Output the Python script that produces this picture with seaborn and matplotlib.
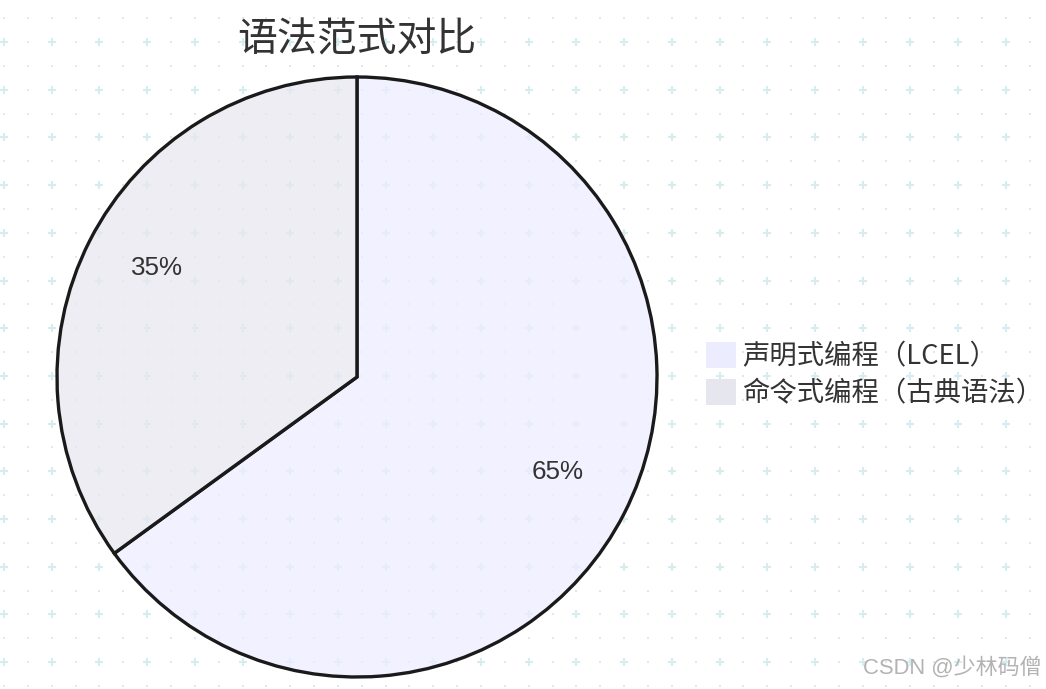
import numpy as np
import matplotlib
matplotlib.use("Agg")
import matplotlib.pyplot as plt
import seaborn as sns
from matplotlib.colors import to_rgba
from matplotlib.patches import Patch
from matplotlib.transforms import ScaledTranslation

# chart data
categories = ["声明式编程（LCEL）", "命令式编程（古典语法）"]
shares = [65, 35]
slice_colors = ["#ECECFF", "#E6E6EE"]
chart_title = "语法范式对比"
watermark = "CSDN @少林码僧"

sns.set_theme(style="white")
plt.rcParams["font.family"] = ["Noto Sans CJK SC", "DejaVu Sans"]

W, H = 1046, 689
fig = plt.figure(figsize=(W / 100, H / 100), dpi=100)
fig.patch.set_facecolor("white")

# faint dot / cross background pattern (pixel coordinates)
bg = fig.add_axes([0, 0, 1, 1])
bg.set_xlim(0, W)
bg.set_ylim(H, 0)
bg.axis("off")
step = 23.85
kx = np.arange(0, 45)
ky = np.arange(-2, 29)
gx, gy = np.meshgrid(kx, ky)
px = 4 + step * gx
py = 42 + step * gy
cross = (gx % 2 == 0) & (gy % 2 == 0)
grid_color = "#d6edf0"
bg.scatter(px[cross], py[cross], marker="+", s=30, linewidths=1.5, color=grid_color)
bg.scatter(px[~cross], py[~cross], marker="s", s=3, linewidths=0, color=grid_color)

# pie
ax = fig.add_axes([57 / W, (H - 677) / H, 600 / W, 600 / H])
ax.patch.set_alpha(0)
face = [to_rgba(c, 0.7) for c in slice_colors]
wedges, texts, autotexts = ax.pie(
    shares,
    colors=face,
    startangle=90,
    counterclock=False,
    autopct="%.0f%%",
    pctdistance=0.75,
    wedgeprops=dict(edgecolor="#1a1a1a", linewidth=2.4, clip_on=False),
    textprops=dict(fontsize=18.7, color="#333333", family=["Liberation Sans", "DejaVu Sans"]),
)
for t in autotexts:
    t.set_transform(t.get_transform() + ScaledTranslation(0, 7 / 100, fig.dpi_scale_trans))
ax.set_xlim(-1, 1)
ax.set_ylim(-1, 1)
ax.axis("off")

fig.text(357 / W, 1 - 40 / H, chart_title, ha="center", va="center",
         fontsize=28.7, color="#333333")

handles = [Patch(facecolor=c, edgecolor="none") for c in slice_colors]
fig.legend(
    handles, categories,
    loc="upper left", bbox_to_anchor=(706 / W, 1 - 342 / H),
    frameon=False, fontsize=19.7, labelcolor="#333333",
    handlelength=1.1, handleheight=1.1, handletextpad=0.22,
    borderpad=0, borderaxespad=0, labelspacing=0.3,
)

fig.text(1042 / W, 1 - 668 / H, watermark, ha="right", va="center",
         fontsize=15.8, color="#b3b3b3", family=["Liberation Sans", "Noto Sans CJK SC"])

fig.savefig("out.png", dpi=100)
